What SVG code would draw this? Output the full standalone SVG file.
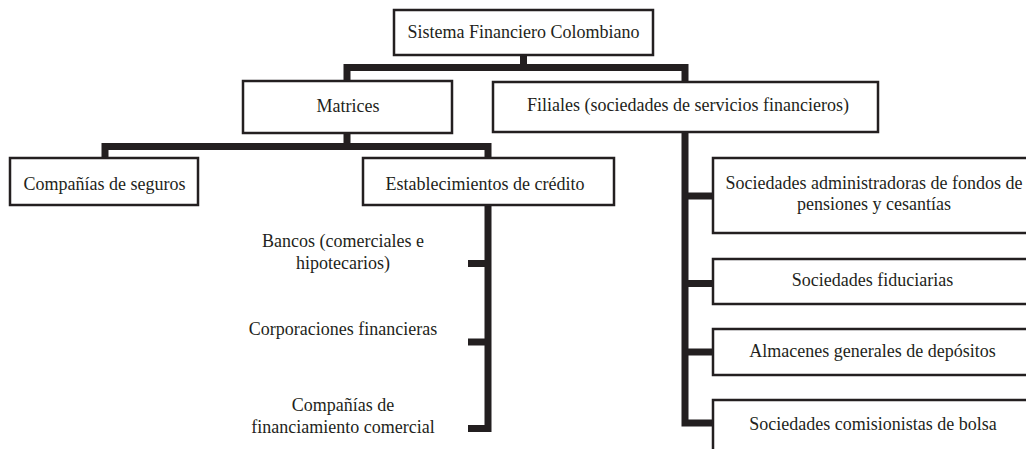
<svg xmlns="http://www.w3.org/2000/svg" width="1026" height="449" viewBox="0 0 1026 449">
<style>
.box{fill:#fff;stroke:#231f20;stroke-width:2.5}
.t{font-family:"Liberation Serif","Times New Roman",serif;font-size:18px;fill:#231f20;text-anchor:middle}
.c{fill:none;stroke:#231f20;stroke-width:7;stroke-linejoin:miter;stroke-linecap:butt}
</style>
<rect width="1026" height="449" fill="#fff"/>
<g id="connectors">
<path class="c" d="M523.5,56 V67"/>
<path class="c" d="M347,81 V67.5 H685 V81"/>
<path class="c" d="M347,134 V147"/>
<path class="c" d="M105,157 V146.5 H488 V157"/>
<path class="c" d="M488,206 V428.5 H468"/>
<path class="c" d="M468,263.5 H488"/>
<path class="c" d="M468,342 H488"/>
<path class="c" d="M685,133 V423 H712"/>
<path class="c" d="M685,196 H712"/>
<path class="c" d="M685,283.5 H712"/>
<path class="c" d="M685,352 H712"/>
</g>
<g id="sistema">
<rect class="box" x="394" y="10" width="259" height="45"/>
<text class="t" x="523.5" y="38">Sistema Financiero Colombiano</text>
</g>
<g id="matrices">
<rect class="box" x="243" y="81" width="209" height="52"/>
<text class="t" x="348" y="112">Matrices</text>
</g>
<g id="filiales">
<rect class="box" x="493" y="82" width="385" height="50"/>
<text class="t" x="688" y="111">Filiales (sociedades de servicios financieros)</text>
</g>
<g id="seguros">
<rect class="box" x="10" y="158" width="188" height="47"/>
<text class="t" x="104.5" y="190">Compañías de seguros</text>
</g>
<g id="establecimientos">
<rect class="box" x="363" y="158" width="251" height="47"/>
<text class="t" x="485" y="190">Establecimientos de crédito</text>
</g>
<g id="bancos">
<text class="t" x="343" y="247">Bancos (comerciales e</text>
<text class="t" x="343" y="269">hipotecarios)</text>
</g>
<g id="corporaciones">
<text class="t" x="343" y="335">Corporaciones financieras</text>
</g>
<g id="companias-financiamiento">
<text class="t" x="343" y="411">Compañías de</text>
<text class="t" x="343" y="433">financiamiento comercial</text>
</g>
<g id="pensiones">
<rect class="box" x="713" y="158" width="322" height="75"/>
<text class="t" x="874" y="189">Sociedades administradoras de fondos de</text>
<text class="t" x="874" y="210">pensiones y cesantías</text>
</g>
<g id="fiduciarias">
<rect class="box" x="713" y="259" width="322" height="45"/>
<text class="t" x="872.5" y="286">Sociedades fiduciarias</text>
</g>
<g id="almacenes">
<rect class="box" x="713" y="329" width="322" height="46"/>
<text class="t" x="872.5" y="357">Almacenes generales de depósitos</text>
</g>
<g id="comisionistas">
<rect class="box" x="713" y="400" width="322" height="70"/>
<text class="t" x="873" y="430">Sociedades comisionistas de bolsa</text>
</g>
</svg>
